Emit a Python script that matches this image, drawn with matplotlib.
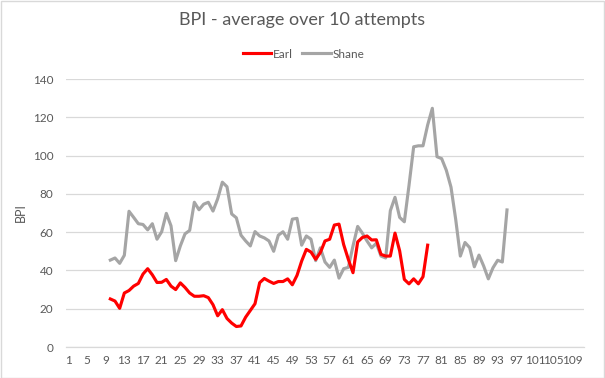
import numpy as np
import matplotlib
matplotlib.use("Agg")
import matplotlib.pyplot as plt
from matplotlib.patches import Rectangle

# =====================================================
# data
# =====================================================
n_categories = 111
tick_labels = [str(i) for i in range(1, n_categories + 1, 4)]

earl_start = 10
earl = [25.1, 24.0, 20.2, 28.2, 29.5, 31.8, 33.2, 38.1, 40.9, 37.7,
        33.7, 33.8, 35.3, 31.8, 30.0, 33.5, 31.1, 28.2, 26.5, 26.5,
        26.8, 25.8, 22.1, 16.3, 19.5, 14.9, 12.5, 10.7, 11.0, 15.6,
        19.1, 22.6, 33.6, 35.8, 34.4, 33.2, 34.2, 34.2, 35.6, 32.5,
        37.4, 44.9, 51.0, 49.6, 45.8, 49.3, 55.4, 56.3, 63.7, 64.2,
        53.5, 45.8, 38.8, 54.9, 57.2, 58.0, 55.9, 56.0, 48.4, 47.5,
        47.5, 59.5, 50.2, 35.3, 33.0, 35.6, 33.0, 36.7, 53.2]

shane_start = 10
shane = [45.4, 46.5, 43.7, 47.9, 70.9, 67.7, 64.4, 64.0, 61.2, 64.4,
         56.3, 60.2, 69.8, 63.3, 45.1, 52.8, 59.1, 60.9, 75.6, 71.7,
         74.6, 75.6, 71.0, 77.4, 86.1, 83.7, 69.5, 67.5, 58.4, 55.4,
         52.8, 60.3, 58.0, 57.0, 55.4, 50.0, 58.4, 60.2, 56.3, 66.8,
         67.2, 53.2, 58.0, 56.3, 45.1, 51.8, 44.4, 41.6, 45.4, 36.0,
         40.9, 41.6, 52.8, 63.0, 59.5, 55.4, 51.8, 54.2, 47.5, 46.5,
         71.2, 78.2, 67.7, 65.4, 84.4, 104.6, 105.1, 105.1, 116.0, 124.7,
         99.4, 98.4, 92.3, 83.5, 66.8, 47.5, 54.6, 51.9, 41.9, 48.0,
         42.3, 35.6, 41.4, 45.3, 44.4, 71.6]

# =====================================================
# figure
# =====================================================
plt.rcParams["font.family"] = ["Lato", "DejaVu Sans"]
text_color = "#595959"
grid_color = "#D9D9D9"

fig = plt.figure(figsize=(6.05, 3.78), dpi=100)
ax = fig.add_axes([66 / 605, 1 - 347 / 378, 518 / 605, 268 / 378])

x_earl = np.arange(earl_start, earl_start + len(earl))
x_shane = np.arange(shane_start, shane_start + len(shane))

ax.plot(x_shane, shane, color="#A5A5A5", lw=2.25, label="Shane", solid_joinstyle="round")
ax.plot(x_earl, earl, color="#FF0000", lw=2.25, label="Earl", solid_joinstyle="round")

ax.set_xlim(0.5, n_categories + 0.5)
ax.set_ylim(0, 140)
ax.set_yticks(np.arange(0, 141, 20))
ax.set_xticks(np.arange(1, n_categories + 1, 4))
ax.set_xticklabels(tick_labels)
ax.tick_params(length=0, labelsize=8.5, colors=text_color, pad=6)
ax.tick_params(axis="y", pad=9)
ax.yaxis.grid(True, color=grid_color, lw=0.9)
ax.set_axisbelow(True)
for side in ["top", "right", "left"]:
    ax.spines[side].set_visible(False)
ax.spines["bottom"].set_color(grid_color)
ax.spines["bottom"].set_linewidth(0.9)

ax.set_ylabel("BPI", color=text_color, fontsize=9, labelpad=4)

fig.text(0.5, 1 - 20 / 378, "BPI - average over 10 attempts", ha="center", va="center",
         fontsize=13, color=text_color)

handles, labels = ax.get_legend_handles_labels()
fig.legend(handles[::-1], labels[::-1], loc="center", bbox_to_anchor=(0.502, 1 - 54 / 378),
           ncol=2, frameon=False, fontsize=8.5, labelcolor=text_color,
           handlelength=2.4, columnspacing=0.8, handletextpad=0.15)

fig.patches.append(Rectangle((0.001, 0.001), 0.997, 0.997, transform=fig.transFigure,
                             fill=False, edgecolor=grid_color, lw=1))

fig.savefig("out.png", dpi=100)
